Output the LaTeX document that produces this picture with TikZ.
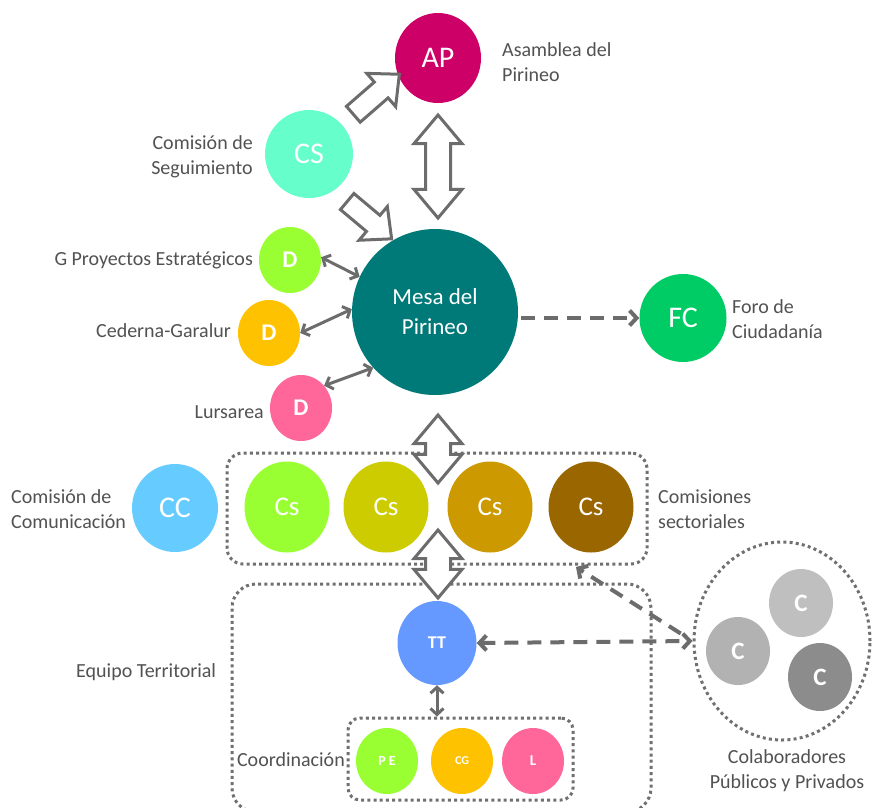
\documentclass[tikz,border=0pt]{standalone}
\usepackage{fontspec}
\setmainfont{Carlito}
\usetikzlibrary{shapes.geometric,shapes.arrows,arrows.meta}
\definecolor{labelgray}{RGB}{82,82,82}
\definecolor{arrgray}{RGB}{108,108,108}
\definecolor{dotgray}{RGB}{112,112,112}
\definecolor{cAP}{RGB}{204,0,102}
\definecolor{cCS}{RGB}{102,255,204}
\definecolor{cMesa}{RGB}{0,122,120}
\definecolor{cLime}{RGB}{153,255,51}
\definecolor{cOrange}{RGB}{255,194,0}
\definecolor{cPink}{RGB}{255,102,153}
\definecolor{cFC}{RGB}{0,204,102}
\definecolor{cCC}{RGB}{102,204,255}
\definecolor{cOlive}{RGB}{204,204,0}
\definecolor{cGold}{RGB}{204,153,0}
\definecolor{cBrown}{RGB}{153,102,0}
\definecolor{cTT}{RGB}{102,153,255}
\definecolor{cCa}{RGB}{191,191,191}
\definecolor{cCb}{RGB}{178,178,178}
\definecolor{cCc}{RGB}{140,140,140}
\begin{document}
\begin{tikzpicture}[x=1pt,y=-1pt,
  bub/.style={ellipse, inner sep=0pt, text=white, draw=none},
  lbl/.style={text=labelgray, font=\fontsize{20}{25}\selectfont, inner sep=0pt},
  dotbox/.style={draw=dotgray, line width=3pt, dash pattern=on 3pt off 3.2pt},
  hdouble/.style={double arrow, draw=arrgray, fill=white, line width=3pt, inner xsep=0pt, inner ysep=11pt,
     minimum width=45pt, double arrow head extend=11.5pt, double arrow tip angle=80, rotate=90},
  hsingle/.style={single arrow, draw=arrgray, fill=white, line width=3pt, inner xsep=0pt, inner ysep=9pt,
     minimum width=42pt, single arrow head extend=11.5pt, single arrow tip angle=85},
  thinarr/.style={draw=arrgray, line width=3pt, {Straight Barb[length=6pt,width=13pt]}-{Straight Barb[length=6pt,width=13pt]}},
  dasharr/.style={draw=arrgray, line width=4pt, dash pattern=on 14pt off 9pt}
]
\useasboundingbox (0,0) rectangle (872,807);
\clip (0,0) rectangle (872,807);
\fill[white] (0,0) rectangle (872,807);

% dotted group boxes
\node[dotbox, rectangle, rounded corners=16pt, minimum width=420pt, minimum height=111pt] (csbox) at (437,508.5) {};
\node[dotbox, rectangle, rounded corners=24pt, minimum width=419pt, minimum height=228pt] (eqbox) at (441.5,698) {};
\node[dotbox, rectangle, rounded corners=12pt, minimum width=225pt, minimum height=82pt] (coordbox) at (460.5,759) {};
\node[dotbox, ellipse, minimum width=176pt, minimum height=198pt] (collab) at (782,641) {};

% circles
\node[bub, fill=cAP, minimum width=86pt, minimum height=90pt, font=\fontsize{30}{30}\selectfont] (AP) at (438,58) {AP};
\node[bub, fill=cCS, minimum width=88pt, minimum height=88pt, font=\fontsize{30}{30}\selectfont] (CS) at (309,154) {CS};
\node[bub, fill=cMesa, minimum size=166pt, align=center, font=\fontsize{23}{30}\selectfont] (Mesa) at (435,312) {Mesa del\\Pirineo};
\node[bub, fill=cLime, minimum width=62pt, minimum height=66pt, font=\fontsize{24}{24}\selectfont\bfseries] (D1) at (290,260) {D};
\node[bub, fill=cOrange, minimum width=62pt, minimum height=66pt, font=\fontsize{24}{24}\selectfont\bfseries] (D2) at (269,333) {D};
\node[bub, fill=cPink, minimum width=62pt, minimum height=66pt, font=\fontsize{24}{24}\selectfont\bfseries] (D3) at (301,408) {D};
\node[bub, fill=cFC, minimum width=87pt, minimum height=88pt, font=\fontsize{30}{30}\selectfont] (FC) at (683,318) {FC};
\node[bub, fill=cCC, minimum width=86pt, minimum height=88pt, font=\fontsize{30}{30}\selectfont] (CC) at (175,508) {CC};
\node[bub, fill=cLime, minimum width=85pt, minimum height=91pt, font=\fontsize{27}{27}\selectfont] (Cs1) at (287,507) {Cs};
\node[bub, fill=cOlive, minimum width=85pt, minimum height=91pt, font=\fontsize{27}{27}\selectfont] (Cs2) at (386,507) {Cs};
\node[bub, fill=cGold, minimum width=85pt, minimum height=91pt, font=\fontsize{27}{27}\selectfont] (Cs3) at (490,507) {Cs};
\node[bub, fill=cBrown, minimum width=85pt, minimum height=91pt, font=\fontsize{27}{27}\selectfont] (Cs4) at (591,507) {Cs};
\node[bub, fill=cTT, minimum width=79pt, minimum height=84pt, font=\fontsize{18}{18}\selectfont\bfseries] (TT) at (437,643) {TT};
\node[bub, fill=cLime, minimum width=62pt, minimum height=66pt, font=\fontsize{14}{14}\selectfont\bfseries] (PE) at (387,761) {P E};
\node[bub, fill=cOrange, minimum width=62pt, minimum height=66pt, font=\fontsize{12}{12}\selectfont\bfseries] (CG) at (462,761) {CG};
\node[bub, fill=cPink, minimum width=62pt, minimum height=66pt, font=\fontsize{15}{15}\selectfont\bfseries] (L) at (533,761) {L};
\node[bub, fill=cCa, minimum width=64pt, minimum height=68pt, font=\fontsize{25}{25}\selectfont\bfseries] (C1) at (801,603) {C};
\node[bub, fill=cCb, minimum width=64pt, minimum height=68pt, font=\fontsize{25}{25}\selectfont\bfseries] (C2) at (738,651) {C};
\node[bub, fill=cCc, minimum width=64pt, minimum height=68pt, font=\fontsize{25}{25}\selectfont\bfseries] (C3) at (820,677) {C};

% labels
\node[lbl, anchor=west, align=left] (tAP) at (502,62) {Asamblea del\\Pirineo};
\node[lbl, anchor=east, align=right] (tCS) at (253,157) {Comisión de\\Seguimiento};
\node[lbl, anchor=east] (tD1) at (253,260) {G Proyectos Estratégicos};
\node[lbl, anchor=east] (tD2) at (231,331) {Cederna-Garalur};
\node[lbl, anchor=east] (tD3) at (264,412) {Lursarea};
\node[lbl, anchor=west, align=left] (tFC) at (732,319) {Foro de\\Ciudadanía};
\node[lbl, anchor=west, align=left] (tCC) at (11,509) {Comisión de\\Comunicación};
\node[lbl, anchor=west, align=left] (tCs) at (658,509) {Comisiones\\sectoriales};
\node[lbl, anchor=west] (tEq) at (76,672) {Equipo Territorial};
\node[lbl, anchor=east] (tCo) at (345,760) {Coordinación};
\node[lbl, align=center] (tCol) at (787,771) {Colaboradores\\Públicos y Privados};

% hollow block arrows
\node[hsingle, minimum height=61pt, rotate=41] (aCSAP) at (372,98) {};
\node[hsingle, minimum height=58pt, rotate=-40] (aCSM) at (365,216.5) {};
\node[hdouble, minimum height=103pt] (aAPM) at (438,166.5) {};
\node[hdouble, minimum height=68pt] (aMCs) at (438,449) {};
\node[hdouble, minimum height=68pt] (aCsT) at (438,564) {};

% thin double arrows
\draw[thinarr] (D1.5) -- (Mesa.155);
\draw[thinarr] (D2.east) -- (Mesa.178);
\draw[thinarr] (D3.44) -- (Mesa.222);
\draw[thinarr] (TT.south) -- (TT.south |- coordbox.north);

% dashed arrows
\draw[dasharr, -{Straight Barb[length=7pt,width=15pt]}, shorten <=3pt] (Mesa.east |- FC.west) -- (FC.west);
\draw[dasharr, {Straight Barb[length=7pt,width=15pt]}-{Straight Barb[length=7pt,width=15pt]}] (TT.east) -- (collab.west);
\coordinate (cstarget) at (576,567);
\draw[dasharr, -{Straight Barb[length=7pt,width=15pt]}, shorten <=14pt] (collab.west) -- (cstarget);
\end{tikzpicture}
\end{document}
